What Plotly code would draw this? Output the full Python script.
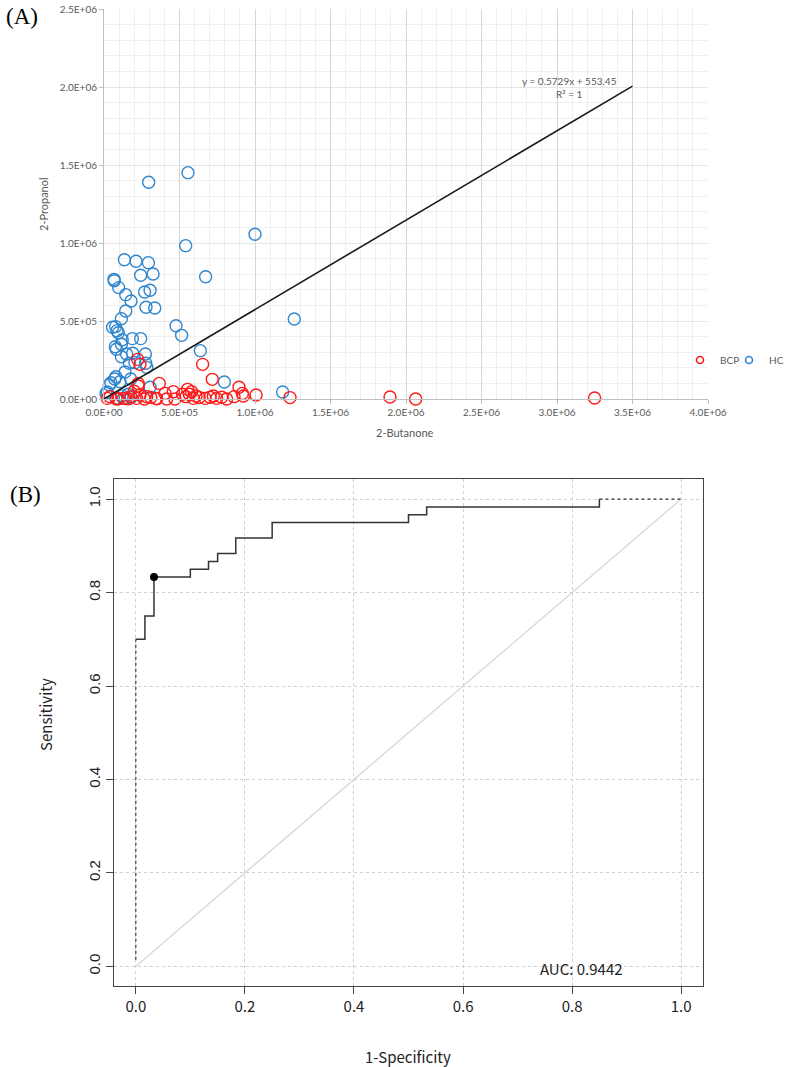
import plotly.graph_objects as go

# ---------------- Panel A data (2-Butanone vs 2-Propanol) ----------------
hc_butanone = [0.296e6, 0.556e6, 1.000e6, 0.541e6, 0.135e6, 0.212e6, 0.294e6, 0.673e6, 0.243e6, 0.325e6,
               0.066e6, 0.068e6, 0.097e6, 0.144e6, 0.179e6, 0.269e6, 0.305e6, 0.278e6, 0.336e6, 0.144e6,
               0.115e6, 1.260e6, 0.057e6, 0.077e6, 0.086e6, 0.095e6, 0.477e6, 0.514e6, 0.188e6, 0.243e6,
               0.121e6, 0.075e6, 0.082e6, 0.115e6, 0.638e6, 0.150e6, 0.190e6, 0.274e6, 0.115e6, 0.168e6,
               0.205e6, 0.276e6, 0.283e6, 0.139e6, 0.177e6, 0.079e6, 0.071e6, 0.046e6, 0.035e6, 0.022e6,
               0.013e6, 0.305e6, 0.797e6, 1.183e6, 0.080e6, 0.120e6, 0.160e6, 0.180e6, 0.106e6, 0.140e6]
hc_propanol = [1.389e6, 1.451e6, 1.056e6, 0.983e6, 0.893e6, 0.883e6, 0.874e6, 0.784e6, 0.793e6, 0.801e6,
               0.767e6, 0.758e6, 0.714e6, 0.669e6, 0.628e6, 0.686e6, 0.697e6, 0.588e6, 0.583e6, 0.564e6,
               0.515e6, 0.513e6, 0.460e6, 0.464e6, 0.438e6, 0.425e6, 0.470e6, 0.408e6, 0.387e6, 0.387e6,
               0.380e6, 0.335e6, 0.319e6, 0.351e6, 0.310e6, 0.288e6, 0.293e6, 0.288e6, 0.271e6, 0.229e6,
               0.233e6, 0.229e6, 0.203e6, 0.173e6, 0.128e6, 0.143e6, 0.128e6, 0.104e6, 0.090e6, 0.045e6,
               0.036e6, 0.075e6, 0.109e6, 0.045e6, 0.005e6, 0.020e6, 0.030e6, 0.010e6, 0.111e6, 0.003e6]

bcp_butanone = [0.223e6, 0.238e6, 0.653e6, 0.717e6, 0.366e6, 0.227e6, 0.894e6, 0.916e6, 1.007e6, 1.232e6,
                1.894e6, 2.064e6, 3.249e6, 0.344e6, 0.404e6, 0.415e6, 0.459e6, 0.470e6, 0.543e6, 0.554e6,
                0.565e6, 0.580e6, 0.591e6, 0.609e6, 0.669e6, 0.702e6, 0.724e6, 0.746e6, 0.779e6, 0.812e6,
                0.861e6, 0.923e6, 0.022e6, 0.040e6, 0.084e6, 0.095e6, 0.128e6, 0.161e6, 0.177e6, 0.216e6,
                0.238e6, 0.267e6, 0.283e6, 0.349e6, 0.227e6, 0.200e6, 0.310e6, 0.520e6, 0.630e6]
bcp_propanol = [0.254e6, 0.222e6, 0.222e6, 0.126e6, 0.100e6, 0.100e6, 0.075e6, 0.036e6, 0.026e6, 0.009e6,
                0.013e6, 0.000e6, 0.006e6, 0.004e6, 0.036e6, 0.000e6, 0.047e6, 0.000e6, 0.015e6, 0.062e6,
                0.030e6, 0.047e6, 0.004e6, 0.019e6, 0.004e6, 0.011e6, 0.019e6, 0.004e6, 0.011e6, 0.000e6,
                0.015e6, 0.019e6, 0.004e6, 0.015e6, 0.000e6, 0.002e6, 0.004e6, 0.002e6, 0.015e6, 0.004e6,
                0.026e6, 0.000e6, 0.015e6, 0.002e6, 0.083e6, 0.050e6, 0.010e6, 0.030e6, 0.010e6]

trend_slope = 0.5729
trend_intercept = 553.45
trend_x = [0, 3.5e6]

a_xtick_vals = [0, 0.5e6, 1.0e6, 1.5e6, 2.0e6, 2.5e6, 3.0e6, 3.5e6, 4.0e6]
a_xtick_text = ["0.0E+00", "5.0E+05", "1.0E+06", "1.5E+06", "2.0E+06", "2.5E+06", "3.0E+06", "3.5E+06", "4.0E+06"]
a_ytick_vals = [0, 0.5e6, 1.0e6, 1.5e6, 2.0e6, 2.5e6]
a_ytick_text = ["0.0E+00", "5.0E+05", "1.0E+06", "1.5E+06", "2.0E+06", "2.5E+06"]

# ---------------- Panel B data (ROC) ----------------
roc_fpr = [0.0, 0.0167, 0.0333, 0.10, 0.1333, 0.15, 0.1833, 0.25, 0.50, 0.5333, 0.85]
roc_tpr = [0.70, 0.75, 0.8333, 0.85, 0.8667, 0.8833, 0.9167, 0.95, 0.9667, 0.9833, 1.0]
roc_dash_start_fpr = [0.0, 0.0]
roc_dash_start_tpr = [0.014, 0.70]
roc_dash_end_fpr = [0.85, 1.0]
roc_dash_end_tpr = [1.0, 1.0]
best_fpr = [0.0333]
best_tpr = [0.8333]
diag = [0.0, 1.0]
b_ticks = [0.0, 0.2, 0.4, 0.6, 0.8, 1.0]
b_tick_text = ["0.0", "0.2", "0.4", "0.6", "0.8", "1.0"]
auc_text = "AUC: 0.9442"

W, H = 786, 1067
def px_x(p):
    return p / W
def px_y(p):
    return 1 - p / H

red = "#ff1a1a"
blue = "#2f86cf"
gray_txt = "#595959"
a_family = "Lato, Open Sans, sans-serif"
b_family = "Noto Sans CJK JP, sans-serif"

fig = go.Figure()

fig.add_trace(go.Scatter(x=hc_butanone, y=hc_propanol, mode="markers", name="HC", legendgroup="HC",
                         marker=dict(symbol="circle-open", size=12, color=blue, line=dict(width=1.4, color=blue)),
                         xaxis="x", yaxis="y", cliponaxis=False, showlegend=False))
fig.add_trace(go.Scatter(x=bcp_butanone, y=bcp_propanol, mode="markers", name="BCP", legendgroup="BCP",
                         marker=dict(symbol="circle-open", size=12, color=red, line=dict(width=1.4, color=red)),
                         xaxis="x", yaxis="y", cliponaxis=False, showlegend=False))
# legend entries (smaller symbols, as in the reference legend)
fig.add_trace(go.Scatter(x=[None], y=[None], mode="markers", name="BCP", legendgroup="BCP", legend="legend",
                         marker=dict(symbol="circle-open", size=7, color=red, line=dict(width=1.6, color=red)),
                         xaxis="x", yaxis="y"))
fig.add_trace(go.Scatter(x=[None], y=[None], mode="markers", name="HC", legendgroup="HC", legend="legend2",
                         marker=dict(symbol="circle-open", size=7, color=blue, line=dict(width=1.6, color=blue)),
                         xaxis="x", yaxis="y"))
fig.add_trace(go.Scatter(x=trend_x, y=[trend_slope * v + trend_intercept for v in trend_x], mode="lines",
                         line=dict(color="#1a1a1a", width=1.6), showlegend=False, xaxis="x", yaxis="y",
                         hoverinfo="skip"))

# Panel B
fig.add_trace(go.Scatter(x=diag, y=diag, mode="lines", line=dict(color="#d4d4d4", width=1.2),
                         showlegend=False, xaxis="x2", yaxis="y2"))
fig.add_trace(go.Scatter(x=roc_dash_start_fpr, y=roc_dash_start_tpr, mode="lines",
                         line=dict(color="#333333", width=1.2, dash="dot"), showlegend=False, xaxis="x2", yaxis="y2"))
fig.add_trace(go.Scatter(x=roc_dash_end_fpr, y=roc_dash_end_tpr, mode="lines",
                         line=dict(color="#333333", width=1.2, dash="dot"), showlegend=False, xaxis="x2", yaxis="y2"))
fig.add_trace(go.Scatter(x=roc_fpr, y=roc_tpr, mode="lines", line=dict(color="#333333", width=1.5, shape="hv"),
                         showlegend=False, xaxis="x2", yaxis="y2"))
fig.add_trace(go.Scatter(x=best_fpr, y=best_tpr, mode="markers", marker=dict(color="black", size=8),
                         showlegend=False, xaxis="x2", yaxis="y2"))

a_font = dict(family=a_family, size=10, color=gray_txt)
b_font = dict(family=b_family, size=15, color="#222222")
leg_common = dict(orientation="h", xanchor="left", yanchor="middle",
                  font=dict(family=a_family, size=10, color=gray_txt), itemwidth=30,
                  bgcolor="rgba(0,0,0,0)", borderwidth=0)

fig.update_layout(
    width=W, height=H, margin=dict(l=0, r=0, t=0, b=0, autoexpand=False),
    paper_bgcolor="white", plot_bgcolor="white",
    showlegend=True,
    legend=dict(x=px_x(680), y=px_y(360), **leg_common),
    legend2=dict(x=px_x(729), y=px_y(360), **leg_common),
    xaxis=dict(domain=[px_x(104), px_x(708)], range=[0, 4.0e6], anchor="y",
               tickvals=a_xtick_vals, ticktext=a_xtick_text, tickfont=a_font,
               showgrid=True, gridcolor="#d6d6d6", gridwidth=1,
               minor=dict(dtick=1e5, showgrid=True, gridcolor="#efefef", ticks=""),
               showline=True, linecolor="#bfbfbf", linewidth=1, ticks="outside", ticklen=4, tickcolor="#bfbfbf",
               zeroline=False, automargin=False),
    yaxis=dict(domain=[px_y(399), px_y(9)], range=[0, 2.5e6], anchor="x",
               tickvals=a_ytick_vals, ticktext=a_ytick_text, tickfont=a_font,
               showgrid=True, gridcolor="#e6e6e6", gridwidth=1,
               minor=dict(dtick=1e5, showgrid=True, gridcolor="#efefef", ticks=""),
               showline=True, linecolor="#bfbfbf", linewidth=1, ticks="outside", ticklen=4, tickcolor="#bfbfbf",
               zeroline=False, automargin=False),
    xaxis2=dict(domain=[px_x(114), px_x(703)], range=[-0.04, 1.04], anchor="y2",
                tickvals=b_ticks, ticktext=b_tick_text, tickfont=b_font,
                showgrid=True, gridcolor="#cfcfcf", griddash="dot", gridwidth=1,
                showline=True, linecolor="#444444", linewidth=1.2, mirror=True,
                ticks="outside", ticklen=7, tickcolor="#444444", zeroline=False, automargin=False),
    yaxis2=dict(domain=[px_y(986), px_y(479)], range=[-0.042, 1.043], anchor="x2",
                tickvals=b_ticks, ticktext=b_tick_text, tickangle=-90,
                tickfont=dict(family="Liberation Sans, Arial, sans-serif", size=15, color="#222222"),
                showgrid=True, gridcolor="#cfcfcf", griddash="dot", gridwidth=1,
                showline=True, linecolor="#444444", linewidth=1.2, mirror=True,
                ticks="outside", ticklen=7, tickcolor="#444444", zeroline=False, automargin=False),
)

def ann(text, x, y, font, angle=0, align="center"):
    return dict(text=text, x=px_x(x), y=px_y(y), xref="paper", yref="paper", showarrow=False,
                xanchor="center", yanchor="middle", textangle=angle, align=align, font=font)

annotations = [
    ann("(A)", 22, 16, dict(family="Liberation Serif, serif", size=23, color="black")),
    ann("(B)", 26, 494, dict(family="Liberation Serif, serif", size=23, color="black")),
    ann("2-Propanol", 43, 204, dict(family=a_family, size=11, color=gray_txt), angle=-90),
    ann("2-Butanone", 405, 432, dict(family=a_family, size=11, color=gray_txt)),
    ann("y = 0.5729x + 553.45<br>R² = 1", 569, 87, dict(family=a_family, size=10, color=gray_txt)),
    ann("Sensitivity", 45, 715, dict(family=b_family, size=15, color="#222222"), angle=-90),
    ann("1-Specificity", 408, 1056, dict(family=b_family, size=15, color="#222222")),
    ann(auc_text, 581, 968, dict(family=b_family, size=15, color="#222222")),
]
fig.update_layout(annotations=annotations)

fig.write_html("out.html", config={"displayModeBar": False},
               post_script="document.body.style.margin='0px';")
